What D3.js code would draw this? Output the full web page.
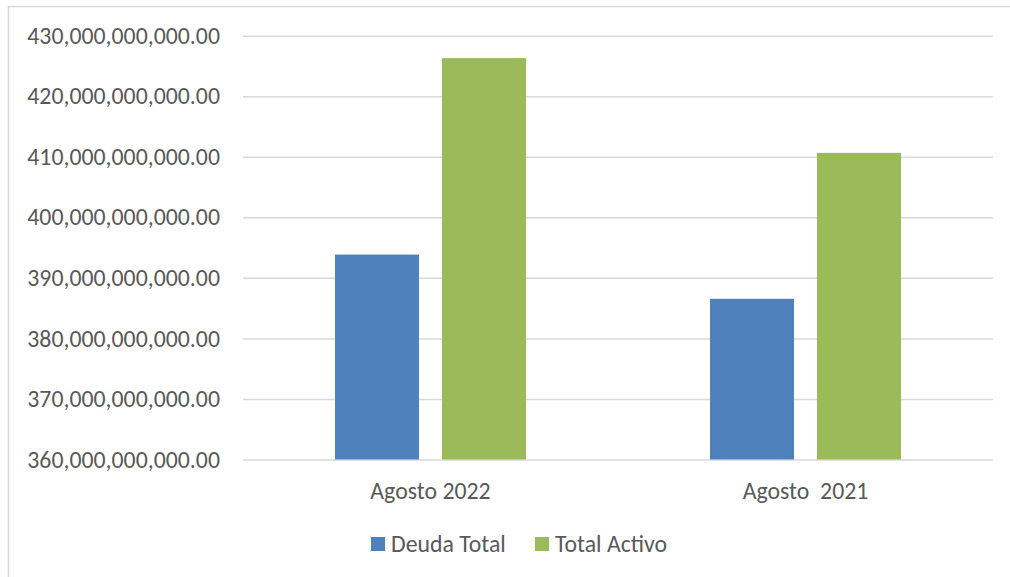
<!DOCTYPE html>
<html>
<head>
<meta charset="utf-8">
<script src="https://cdn.jsdelivr.net/npm/d3@7"></script>
<style>
  html, body { margin: 0; padding: 0; background: #fff; }
  svg { display: block; }
  text { font-family: Carlito, Calibri, Lato, sans-serif; fill: #595959; }
</style>
</head>
<body>
<svg></svg>
<script>
// chart data
const categories = ['Agosto 2022', 'Agosto  2021'];
const seriesNames = ['Deuda Total', 'Total Activo'];
const deudaTotal = [393.85e9, 386.55e9];
const totalActivo = [426.3e9, 410.65e9];
const yTicks = [360e9, 370e9, 380e9, 390e9, 400e9, 410e9, 420e9, 430e9];

;(() => {

    const renderWidth = 1010;
    const renderHeight = 577;
    const colors = ['#4f81bd', '#9bbb59'];
    const gridColor = '#d9d9d9';
    const fontSize = 23.8;
    // plot area borders
    const plot = { left: 243, right: 993, top: 35.7, bottom: 459.5 };

    const svg = d3.select('svg')
        .attr('width', renderWidth)
        .attr('height', renderHeight);

    // chart frame (runs off the right and bottom edge)
    svg.append('rect')
        .attr('x', 8.5)
        .attr('y', 6.5)
        .attr('width', renderWidth + 20)
        .attr('height', renderHeight + 20)
        .attr('fill', 'none')
        .attr('stroke', gridColor)
        .attr('stroke-width', 1.5);

    const y = d3.scaleLinear()
        .domain([yTicks[0], yTicks[yTicks.length - 1]])
        .range([plot.bottom, plot.top]);

    const x0 = d3.scaleBand()
        .domain(categories)
        .range([plot.left, plot.right]);

    // inner scale for the two series inside a category
    const x1 = d3.scaleBand()
        .domain(seriesNames)
        .range([0, x0.bandwidth()])
        .paddingInner(0.215)
        .paddingOuter(0.86);

    // gridlines and tick labels
    const yAxis = d3.axisLeft(y)
        .tickValues(yTicks)
        .tickSize(-(plot.right - plot.left))
        .tickFormat(d3.format(',.2f'))
        .tickPadding(23);

    const gy = svg.append('g')
        .attr('transform', `translate(${plot.left},0)`)
        .call(yAxis);
    gy.select('.domain').remove();
    gy.selectAll('.tick line')
        .attr('stroke', gridColor)
        .attr('stroke-width', 1.5);
    gy.selectAll('.tick text')
        .attr('font-size', fontSize)
        .attr('fill', '#595959')
        .style('font-family', 'Carlito, Calibri, Lato, sans-serif');

    const rows = categories.map((c, i) => ({
        category: c,
        values: [deudaTotal[i], totalActivo[i]]
    }));

    // bars
    const groups = svg.append('g')
        .selectAll('g')
        .data(rows)
        .enter()
        .append('g')
        .attr('transform', (d) => `translate(${x0(d.category)},0)`);

    groups.selectAll('rect')
        .data((d) => d.values.map((v, i) => ({ name: seriesNames[i], value: v, idx: i })))
        .enter()
        .append('rect')
        .attr('x', (d) => x1(d.name))
        .attr('width', x1.bandwidth())
        .attr('y', (d) => y(d.value))
        .attr('height', (d) => y(yTicks[0]) - y(d.value))
        .attr('fill', (d) => colors[d.idx]);

    // category labels
    const xAxis = d3.axisBottom(x0).tickSize(0).tickPadding(0);
    const gx = svg.append('g')
        .attr('transform', `translate(0,${plot.bottom})`)
        .call(xAxis);
    gx.select('.domain').remove();
    gx.selectAll('.tick text')
        .attr('dy', null)
        .attr('y', 39)
        .attr('font-size', fontSize)
        .attr('fill', '#595959')
        .style('font-family', 'Carlito, Calibri, Lato, sans-serif')
        .style('white-space', 'pre');

    /**
      * Legend below the plot
      */
    const legend = svg.append('g').attr('transform', 'translate(371,537)');
    const legendStep = [0, 164];
    seriesNames.forEach((name, i) => {
        const item = legend.append('g').attr('transform', `translate(${legendStep[i]},0)`);
        item.append('rect')
            .attr('width', 14)
            .attr('height', 14)
            .attr('fill', colors[i]);
        item.append('text')
            .attr('x', 20)
            .attr('y', 14.5)
            .attr('font-size', fontSize)
            .text(name);
    });

})();
</script>
</body>
</html>
